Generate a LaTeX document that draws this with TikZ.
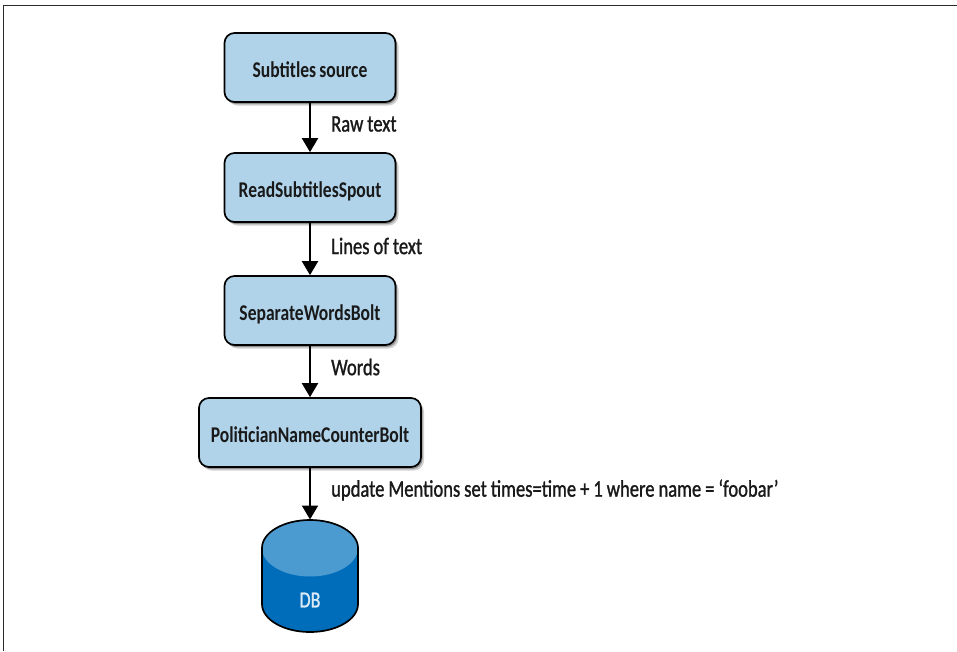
\documentclass[tikz,border=0pt]{standalone}
\usepackage{fontspec}
\setmainfont[FakeStretch=0.78,WordSpace=0.8]{Carlito}
\newfontfamily\lblfont[FakeStretch=0.78,FakeBold=1.1,WordSpace=0.95]{Carlito}
\usetikzlibrary{arrows.meta,shadows}
\definecolor{boxblue}{HTML}{B0D3EA}
\definecolor{dbtop}{HTML}{4C9BD0}
\definecolor{dbbody}{HTML}{006DBB}
\definecolor{dbtext}{HTML}{DCEBF7}
\definecolor{framegray}{HTML}{2B2B2B}
\tikzset{
  x=1pt,y=-1pt,
  stagebox/.style={draw=black,line width=1.7pt,fill=boxblue,rounded corners=10pt,minimum height=69pt,inner sep=0pt,
    font=\fontsize{22.5}{24}\selectfont\bfseries,text=black!90,text height=20pt,text depth=0pt,
    drop shadow={shadow xshift=3pt,shadow yshift=-3.5pt,opacity=0.18,fill=black},
    drop shadow={shadow xshift=1.5pt,shadow yshift=-2pt,opacity=0.3,fill=black}},
  flow/.style={draw=black,line width=2pt,-{Triangle[length=14pt,width=16pt]},shorten >=0pt},
  lbl/.style={anchor=west,inner sep=0pt,font=\lblfont\fontsize{23.8}{25}\selectfont,text=black!90},
}
\begin{document}
\begin{tikzpicture}
\useasboundingbox (0,0) rectangle (957,651);
\fill[white] (0,0) rectangle (957,651);
\draw[framegray,line width=1.4pt] (3.5,651) -- (3.5,5.5) -- (957,5.5);
\node[stagebox,minimum width=171pt] (src) at (310,67.5) {Subtitles source};
\node[stagebox,minimum width=171pt] (spout) at (310,187.5) {ReadSubtitlesSpout};
\node[stagebox,minimum width=171pt] (sep) at (310,310.5) {SeparateWordsBolt};
\node[stagebox,minimum width=222pt] (pol) at (310,432.5) {PoliticianNameCounterBolt};
% database
\fill[dbbody] (262,548) arc[x radius=48,y radius=28,start angle=180,end angle=360] -- (358,604)
  arc[x radius=48,y radius=28,start angle=0,end angle=180] -- cycle;
\fill[dbtop] (310,548) ellipse[x radius=48,y radius=28.5];
\draw[black,line width=1.7pt] (262,548) arc[x radius=48,y radius=28,start angle=180,end angle=360] -- (358,604)
  arc[x radius=48,y radius=28,start angle=0,end angle=180] -- cycle;
\node[inner sep=0pt,font=\lblfont\fontsize{23}{25}\selectfont,text=dbtext] (db) at (310,600) {DB};
\coordinate (dbentry) at (310,519.5);
\draw[flow] (src) -- (spout);
\draw[flow] (spout) -- (sep);
\draw[flow] (sep) -- (pol);
\draw[flow] (pol) -- (dbentry);
\node[lbl] (l1) at (331,124) {Raw text};
\node[lbl] (l2) at (331,246) {Lines of text};
\node[lbl] (l3) at (331,367) {Words};
\node[lbl] (l4) at (331,490) {update Mentions set times=time + 1 where name = ‘foobar’};
\end{tikzpicture}
\end{document}
